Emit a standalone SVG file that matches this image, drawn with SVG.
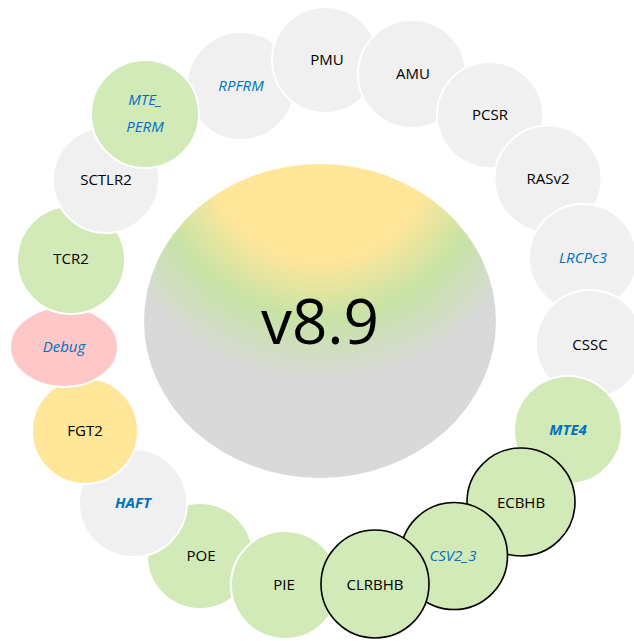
<svg xmlns="http://www.w3.org/2000/svg" width="634" height="641" viewBox="0 0 634 641">
  <style>
    .gray { fill: #F0F0F0; stroke: #FFFFFF; stroke-width: 2; }
    .green { fill: #D2EAB8; stroke: #FFFFFF; stroke-width: 2; }
    .greenb { fill: #D2EAB8; stroke: #000000; stroke-width: 1.6; }
    .yellow { fill: #FFE699; stroke: #FFFFFF; stroke-width: 2; }
    .pink { fill: #FFC8C8; stroke: #FFFFFF; stroke-width: 2; }
    text { font-family: "Open Sans", "Liberation Sans", sans-serif; font-size: 15px; text-anchor: middle; fill: #000000; }
    .it { font-style: italic; fill: #0070C0; }
    .bi { font-style: italic; font-weight: bold; fill: #0070C0; }
    .core { font-size: 62px; }
  </style>
  <defs>
    <radialGradient id="coreFill" gradientUnits="userSpaceOnUse" cx="320" cy="150" r="290">
      <stop offset="0" stop-color="#FFE699"/>
      <stop offset="0.38" stop-color="#FFE699"/>
      <stop offset="0.58" stop-color="#C7E3A6"/>
      <stop offset="0.8" stop-color="#D9D9D9"/>
      <stop offset="1" stop-color="#D9D9D9"/>
    </radialGradient>
  </defs>

  <g id="core">
    <ellipse cx="320" cy="321" rx="176" ry="157" fill="url(#coreFill)"/>
    <text class="core" x="320" y="344">v8.9</text>
  </g>

  <g id="RPFRM"><circle class="gray" cx="241" cy="86" r="54"/><text class="it" x="241" y="91">RPFRM</text></g>
  <g id="PMU"><circle class="gray" cx="325" cy="60" r="53"/><text x="327" y="65">PMU</text></g>
  <g id="AMU"><circle class="gray" cx="412" cy="74" r="54"/><text x="413" y="79">AMU</text></g>
  <g id="PCSR"><circle class="gray" cx="490" cy="115" r="53"/><text x="490" y="120">PCSR</text></g>
  <g id="RASv2"><circle class="gray" cx="548" cy="179" r="53.5"/><text x="548" y="184">RASv2</text></g>
  <g id="LRCPc3"><circle class="gray" cx="583" cy="258" r="54"/><text class="it" x="583" y="263">LRCPc3</text></g>
  <g id="CSSC"><circle class="gray" cx="590" cy="344" r="54"/><text x="590" y="350">CSSC</text></g>
  <g id="MTE4"><circle class="green" cx="568" cy="430" r="54"/><text class="bi" x="568" y="435">MTE4</text></g>
  <g id="ECBHB"><circle class="greenb" cx="521" cy="502" r="54"/><text x="521" y="508">ECBHB</text></g>
  <g id="CSV2_3"><circle class="greenb" cx="454" cy="556" r="53.5"/><text class="it" x="453" y="561">CSV2_3</text></g>
  <g id="POE"><circle class="green" cx="200" cy="556" r="53"/><text x="201" y="561">POE</text></g>
  <g id="PIE"><circle class="green" cx="285" cy="585" r="54"/><text x="284" y="590">PIE</text></g>
  <g id="CLRBHB"><circle class="greenb" cx="375" cy="584" r="54"/><text x="375" y="590">CLRBHB</text></g>
  <g id="HAFT"><circle class="gray" cx="133" cy="503" r="54"/><text class="bi" x="133" y="508">HAFT</text></g>
  <g id="FGT2"><circle class="yellow" cx="85" cy="431" r="53"/><text x="85" y="436">FGT2</text></g>
  <g id="Debug"><ellipse class="pink" cx="64" cy="347" rx="54" ry="40"/><text class="it" x="64" y="352">Debug</text></g>
  <g id="TCR2"><circle class="green" cx="71" cy="260" r="54"/><text x="71" y="264">TCR2</text></g>
  <g id="SCTLR2"><circle class="gray" cx="106" cy="180" r="53"/><text x="106" y="185">SCTLR2</text></g>
  <g id="MTE_PERM"><circle class="green" cx="145" cy="114" r="54"/><text class="it" x="145" y="105">MTE_</text><text class="it" x="145" y="132">PERM</text></g>

  <g id="connectors"/>
</svg>
